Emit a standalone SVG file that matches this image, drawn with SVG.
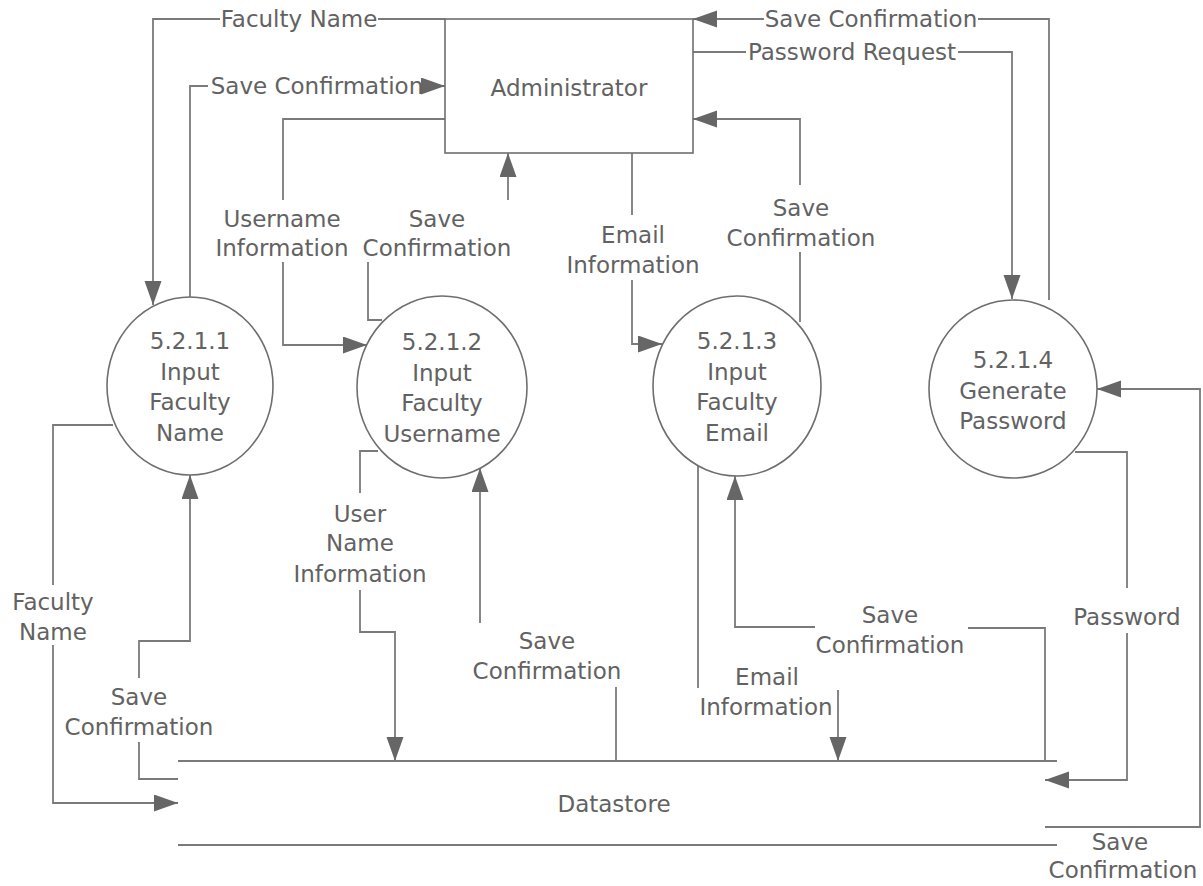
<svg xmlns="http://www.w3.org/2000/svg" width="1203" height="886" viewBox="0 0 1203 886">
<style>
text{font-family:"DejaVu Sans","Liberation Sans",sans-serif;font-size:23px;fill:#626262;text-anchor:middle}
.shape{fill:#fff;stroke:#6e6e6e;stroke-width:1.6}
.c path{fill:none;stroke:#7a7a7a;stroke-width:1.8}
.a{marker-end:url(#arr)}
.ds{stroke:#7a7a7a;stroke-width:1.8;fill:none}
</style>
<defs>
<marker id="arr" markerUnits="userSpaceOnUse" markerWidth="26" markerHeight="20" refX="24" refY="8.5" orient="auto">
<path d="M0,0 L24,8.5 L0,17 z" fill="#666"/>
</marker>
</defs>
<rect width="1203" height="886" fill="#fff"/>
<g id="connectors" class="c">
<path class="a" d="M445,19 H378 M220,19 H153 V305"/>
<path class="a" d="M190,298 V86 H208 M424,86 H445"/>
<path class="a" d="M445,119 H283 V200 M283,262 V345 H367"/>
<path d="M382,320 H368 V262"/>
<path class="a" d="M508,200 V153"/>
<path class="a" d="M632,153 V215 M632,280 V344 H662"/>
<path class="a" d="M800,322 V252 M800,185 V119 H693"/>
<path class="a" d="M1049,300 V19 H978 M764,19 H693"/>
<path class="a" d="M693,52 H746 M958,52 H1012 V299"/>
<path class="a" d="M178,779 H139 V742 M139,678 V641 H190 V475"/>
<path class="a" d="M113,425 H53 V585 M53,645 V803 H178"/>
<path class="a" d="M378,451 H360 V493 M360,590 V632 H395 V761"/>
<path d="M616,761 V687"/>
<path class="a" d="M480,623 V468"/>
<path d="M698,466 V688"/>
<path class="a" d="M838,690 V761"/>
<path class="a" d="M1045,761 V628 H968 M815,627 H735 V476"/>
<path class="a" d="M1075,452 H1127 V588 M1127,633 V780 H1045"/>
<path class="a" d="M1045,827 H1200 V389 H1097"/>
</g>
<g id="labels">
<text x="299" y="27">Faculty Name</text>
<text x="317" y="94">Save Confirmation</text>
<text x="282" y="227">Username</text><text x="282" y="256">Information</text>
<text x="437" y="227">Save</text><text x="437" y="256">Confirmation</text>
<text x="633" y="243">Email</text><text x="633" y="273">Information</text>
<text x="801" y="216">Save</text><text x="801" y="246">Confirmation</text>
<text x="871" y="27">Save Confirmation</text>
<text x="852" y="60">Password Request</text>
<text x="53" y="610">Faculty</text><text x="53" y="640">Name</text>
<text x="139" y="705">Save</text><text x="139" y="735">Confirmation</text>
<text x="360" y="522">User</text><text x="360" y="551">Name</text><text x="360" y="582">Information</text>
<text x="547" y="649">Save</text><text x="547" y="679">Confirmation</text>
<text x="767" y="685">Email</text><text x="766" y="715">Information</text>
<text x="890" y="623">Save</text><text x="890" y="653">Confirmation</text>
<text x="1127" y="625">Password</text>
<text x="1120" y="850">Save</text><text x="1123" y="878">Confirmation</text>
</g>
<g id="administrator">
<rect class="shape" x="445" y="19" width="248" height="134"/>
<text x="569" y="96">Administrator</text>
</g>
<g id="p5211">
<ellipse class="shape" cx="190" cy="386" rx="83" ry="89"/>
<text x="190" y="349">5.2.1.1</text><text x="190" y="380">Input</text><text x="190" y="410">Faculty</text><text x="190" y="441">Name</text>
</g>
<g id="p5212">
<ellipse class="shape" cx="442" cy="387" rx="85" ry="91"/>
<text x="442" y="350">5.2.1.2</text><text x="442" y="381">Input</text><text x="442" y="411">Faculty</text><text x="442" y="442">Username</text>
</g>
<g id="p5213">
<ellipse class="shape" cx="737" cy="386" rx="84" ry="90"/>
<text x="737" y="349">5.2.1.3</text><text x="737" y="380">Input</text><text x="737" y="410">Faculty</text><text x="737" y="441">Email</text>
</g>
<g id="p5214">
<ellipse class="shape" cx="1013" cy="389" rx="84" ry="89"/>
<text x="1013" y="368">5.2.1.4</text><text x="1013" y="399">Generate</text><text x="1013" y="429">Password</text>
</g>
<g id="datastore">
<path class="ds" d="M178,761 H1057 M178,845 H1057"/>
<text x="614" y="812">Datastore</text>
</g>
</svg>
